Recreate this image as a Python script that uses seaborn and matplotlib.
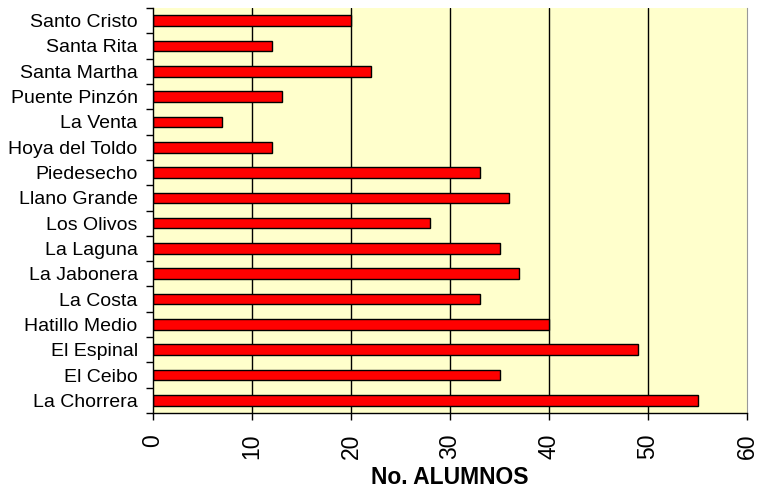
import numpy as np
import pandas as pd
import matplotlib
matplotlib.use('Agg')
import matplotlib.pyplot as plt
import seaborn as sns

# Data (top to bottom as shown)
veredas = ['Santo Cristo', 'Santa Rita', 'Santa Martha', 'Puente Pinzón', 'La Venta',
           'Hoya del Toldo', 'Piedesecho', 'Llano Grande', 'Los Olivos', 'La Laguna',
           'La Jabonera', 'La Costa', 'Hatillo Medio', 'El Espinal', 'El Ceibo', 'La Chorrera']
alumnos = [20, 12, 22, 13, 7, 12, 33, 36, 28, 35, 37, 33, 40, 49, 35, 55]
x_ticks = [0, 10, 20, 30, 40, 50, 60]

df = pd.DataFrame({'vereda': veredas, 'alumnos': alumnos})

sns.set_style('white')
plt.rcParams['font.family'] = ['Liberation Sans', 'DejaVu Sans']
plt.rcParams['text.color'] = 'black'
plt.rcParams['xtick.color'] = 'black'
plt.rcParams['ytick.color'] = 'black'
plt.rcParams['axes.labelcolor'] = 'black'

fig = plt.figure(figsize=(7.58, 4.91), dpi=100)
ax = fig.add_axes([153 / 758, 78 / 491, 594 / 758, 405 / 491])
ax.set_facecolor('#FFFFCC')

sns.barplot(data=df, x='alumnos', y='vereda', order=veredas, orient='h',
            color='#FF0000', edgecolor='black', linewidth=1, width=0.42,
            saturation=1, ax=ax)

ax.set_xlim(0, 60)
ax.set_ylim(len(veredas) - 0.5, -0.5)
ax.set_xticks(x_ticks)
ax.set_xticklabels([str(t) for t in x_ticks], rotation=90, fontsize=16.5)
for t in x_ticks[1:-1]:
    ax.axvline(t, color='black', linewidth=1, zorder=0.5)

# category ticks at the boundaries, labels centred
ax.set_yticks(np.arange(len(veredas)))
ax.set_yticklabels(veredas, fontsize=14)
ax.set_yticks(np.arange(len(veredas) + 1) - 0.5, minor=True)
ax.tick_params(axis='y', which='major', length=0, pad=11)
ax.tick_params(axis='y', which='minor', length=5, width=1, color='black', direction='out', left=True)
ax.tick_params(axis='x', which='major', length=5, width=1, color='black', direction='out', bottom=True, pad=10)

ax.set_xlabel('No. ALUMNOS', fontsize=16.5, fontweight='bold', labelpad=5)
ax.set_ylabel('')

ax.spines['top'].set_visible(False)
ax.spines['right'].set_color('#999999')
ax.spines['left'].set_color('black')
ax.spines['bottom'].set_color('black')
ax.spines['left'].set_linewidth(1)
ax.spines['bottom'].set_linewidth(1)

fig.savefig('out.png', dpi=100)
